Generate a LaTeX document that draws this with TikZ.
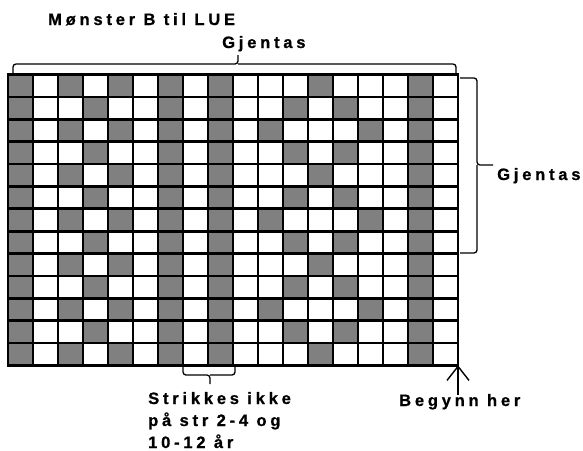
\documentclass[tikz,border=0pt]{standalone}
\usepackage{fontspec}
\setmainfont{Liberation Sans}
\newfontfamily\spacedfont{Liberation Sans}[LetterSpace=23, BoldFeatures={FakeBold=0.8}]
\usetikzlibrary{positioning, arrows.meta}

\begin{document}
\begin{tikzpicture}[
        x=1pt, y=-1pt,
        every node/.style={font=\spacedfont\bfseries\fontsize{16.5}{22}\selectfont},
        cell/.style={draw, line width=2.7pt, fill=white, minimum width=25pt,
                     minimum height=22.35pt, inner sep=0pt, outer sep=0pt},
        dark/.style={cell, fill=gray},
        lbl/.style={inner sep=0pt, align=left},
        brc/.style={line width=1.3pt, rounded corners=3pt},
        arr/.style={-{Straight Barb[length=14pt, width=22pt]}, line width=1.4pt}]

      \useasboundingbox (0,0) rectangle (583,450);

      % chart: all cells white, then the dark ones of each row
      \foreach \r/\darkcols in {1/{1,3,5,7,9,13,17}, 2/{1,4,7,9,12,14,17},
          3/{1,3,5,7,9,11,15,17}, 4/{1,4,7,9,12,14,17}, 5/{1,3,5,7,9,13,17},
          6/{1,4,7,9,12,14,17}, 7/{1,3,5,7,9,11,15,17}, 8/{1,4,7,9,12,14,17},
          9/{1,3,5,7,9,13,17}, 10/{1,4,7,9,12,14,17}, 11/{1,3,5,7,9,11,15,17},
          12/{1,4,7,9,12,14,17}, 13/{1,3,5,7,9,13,17}} {
        \foreach \c in {1,...,18}
          \node[cell] (c-\r-\c) at ({25*\c-4.5}, {22.35*\r+63.525}) {};
        \foreach \c in \darkcols
          \node[dark] at (c-\r-\c) {};
      }

      % braces
      \draw[brc] (13,73) |- (238,64) -- (238,55);
      \draw[brc] (238,64) -| (456,73);
      \draw[brc] (460,78) -| (477,165) -- (493,165);
      \draw[brc] (477,165) |- (460,253);
      \draw[brc] (183,366) |- (210,375) -- (210,384);
      \draw[brc] (210,375) -| (235,366);

      \node[lbl, anchor=base west] (title)   at (48,25)   {Mønster B til LUE};
      \node[lbl, anchor=base west] (toprep)  at (222,48)  {Gjentas};
      \node[lbl, anchor=base west] (siderep) at (497,180) {Gjentas};
      \node[lbl, anchor=base west] (skip)    at (148,448) {Strikkes ikke\\på str 2-4 og\\10-12 år};
      \node[lbl, anchor=base west] (start)   at (399,406) {Begynn her};

      \coordinate (tail) at (458,395);
      \draw[arr] (tail) -- (c-13-18.south east);
    \end{tikzpicture}
\end{document}
